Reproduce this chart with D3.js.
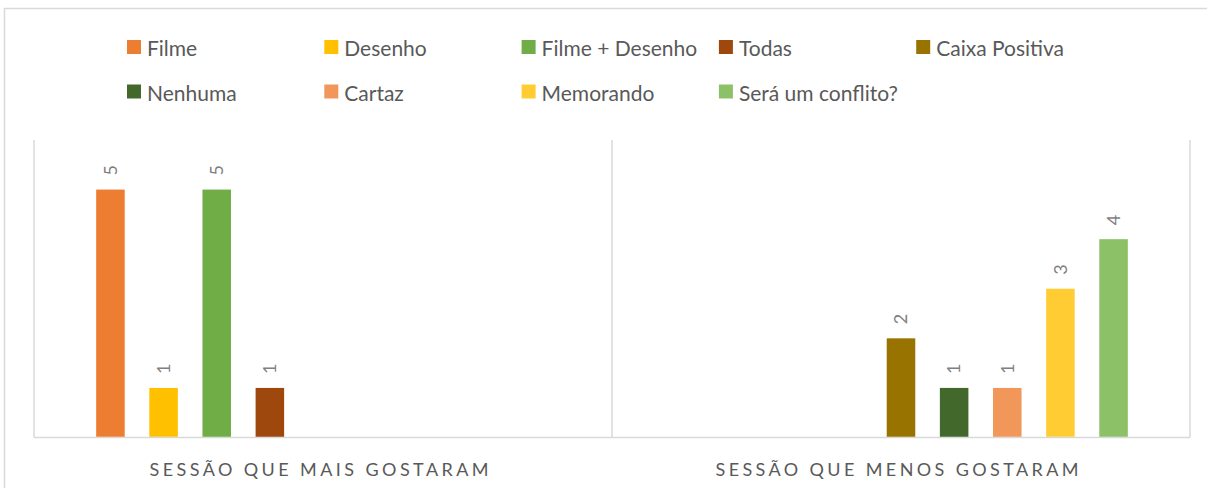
<!DOCTYPE html>
<html>
<head>
<meta charset="utf-8">
<script src="https://cdn.jsdelivr.net/npm/d3@7"></script>
<style>
  body { margin: 0; background: #fff; }
  text { font-family: Lato, "Open Sans", sans-serif; }
</style>
</head>
<body>
<svg id="chart" width="1207" height="488"></svg>
<script>
const categories = ['SESSÃO QUE MAIS GOSTARAM', 'SESSÃO QUE MENOS GOSTARAM'];
const seriesNames = ['Filme', 'Desenho', 'Filme + Desenho', 'Todas', 'Caixa Positiva',
  'Nenhuma', 'Cartaz', 'Memorando', 'Será um conflito?'];
const seriesColors = ['#ED7D31', '#FFC000', '#70AD47', '#9E480E', '#997300',
  '#43682B', '#F1975A', '#FFCD33', '#8CC168'];
// one row per category, one value per series (null = no bar)
const valuesMais = [5, 1, 5, 1, null, null, null, null, null];
const valuesMenos = [null, null, null, null, 2, 1, 1, 3, 4];
const yTicks = [0, 1, 2, 3, 4, 5, 6];

const rows = [valuesMais, valuesMenos];

const svg = d3.select('#chart');
const grid = '#d9d9d9';

// outer chart border
svg.append('rect')
  .attr('x', 4.5).attr('y', 8.5)
  .attr('width', 1220).attr('height', 500)
  .attr('fill', 'none')
  .attr('stroke', grid)
  .attr('stroke-width', 1.5);

const x0 = d3.scaleBand()
  .domain(categories)
  .range([34, 1190]);

const x1 = d3.scaleBand()
  .domain(seriesNames)
  .range([0, x0.bandwidth()])
  .paddingInner(0.463)
  .paddingOuter(1.17);

const y = d3.scaleLinear()
  .domain(d3.extent(yTicks))
  .range([437.5, 140]);

// plot frame: left, separators, right, bottom
const frame = svg.append('g').attr('stroke', grid).attr('stroke-width', 1.5);
[34, ...categories.map((c) => x0(c) + x0.bandwidth())].forEach((xv) => {
  frame.append('line')
    .attr('x1', xv).attr('x2', xv)
    .attr('y1', y(6)).attr('y2', y(0));
});
frame.append('line')
  .attr('x1', 34).attr('x2', 1190)
  .attr('y1', y(0)).attr('y2', y(0));

const bars = [];
rows.forEach((vals, ci) => {
  vals.forEach((v, si) => {
    if (v !== null) bars.push({ cat: categories[ci], s: seriesNames[si], v, color: seriesColors[si] });
  });
});

svg.append('g')
  .selectAll('rect')
  .data(bars)
  .enter()
    .append('rect')
    .attr('x', (d) => x0(d.cat) + x1(d.s))
    .attr('y', (d) => y(d.v))
    .attr('width', x1.bandwidth())
    .attr('height', (d) => y(0) - y(d.v) - 0.75)
    .attr('fill', (d) => d.color);

// rotated value labels
svg.append('g')
  .selectAll('text')
  .data(bars)
  .enter()
    .append('text')
    .attr('transform', (d) => `translate(${x0(d.cat) + x1(d.s) + x1.bandwidth() / 2},${y(d.v) - 14}) rotate(-90)`)
    .attr('dy', '0.35em')
    .attr('fill', '#7f7f7f')
    .attr('font-size', 18)
    .text((d) => d.v);

// category labels
svg.append('g')
  .selectAll('text')
  .data(categories)
  .enter()
    .append('text')
    .attr('x', (d) => x0(d) + x0.bandwidth() / 2 - 4)
    .attr('y', 475.5)
    .attr('text-anchor', 'middle')
    .attr('fill', '#595959')
    .attr('font-size', 18)
    .attr('textLength', (d, i) => i === 0 ? 339 : 363)
    .attr('lengthAdjust', 'spacing')
    .text((d) => d);

// legend, 5 per row
const legend = svg.append('g')
  .selectAll('g')
  .data(seriesNames)
  .enter()
    .append('g')
    .attr('transform', (d, i) => `translate(${127 + (i % 5) * 197.3},${40 + Math.floor(i / 5) * 44.5})`);

legend.append('rect')
  .attr('width', 14).attr('height', 14)
  .attr('fill', (d, i) => seriesColors[i]);

legend.append('text')
  .attr('x', 20)
  .attr('y', 16)
  .attr('fill', '#595959')
  .attr('font-size', 21)
  .text((d) => d);
</script>
</body>
</html>
